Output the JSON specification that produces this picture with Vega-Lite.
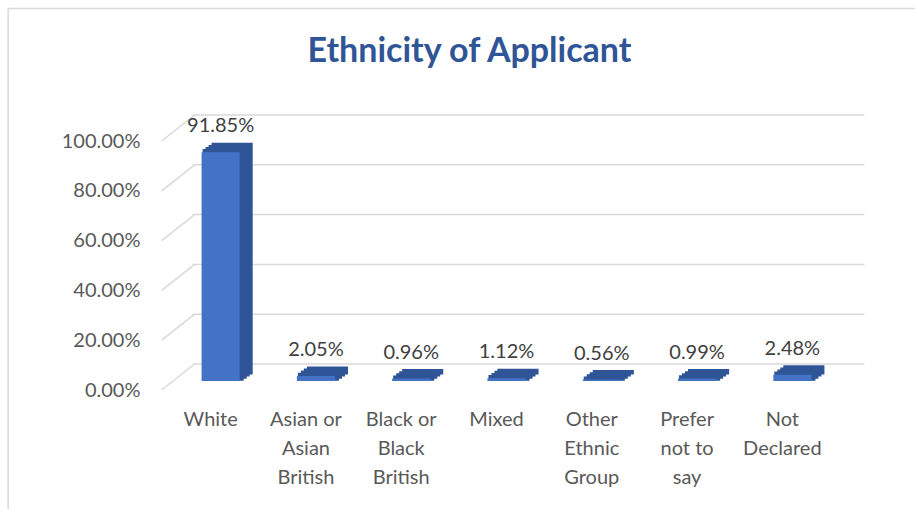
{
  "$schema": "https://vega.github.io/schema/vega-lite/v6.json",
  "width": 667,
  "height": 249,
  "autosize": {"type": "none"},
  "padding": {"left": 173, "top": 132, "right": 75, "bottom": 128},
  "background": "white",
  "config": {
    "view": {"stroke": null},
    "font": "Lato",
    "axis": {"domain": false, "ticks": false, "grid": false, "labelFont": "Lato", "labelFontSize": 20, "labelColor": "#595959"},
    "axisX": {"labelAngle": 0, "labelPadding": 28, "labelOffset": -10, "labelLineHeight": 29, "labelLimit": 300},
    "axisY": {"labelPadding": 33, "labelOffset": 9}
  },
  "title": {
    "text": "Ethnicity of Applicant",
    "font": "Lato",
    "fontSize": 34,
    "fontWeight": "bold",
    "color": "#2F5597",
    "anchor": "middle",
    "frame": "group",
    "dx": -37,
    "offset": -88,
    "baseline": "alphabetic"
  },
  "datasets": {
    "ethnicity": [
      {"ethnicity": "White", "pct": 0.9185},
      {"ethnicity": "Asian or Asian British", "pct": 0.0205},
      {"ethnicity": "Black or Black British", "pct": 0.0096},
      {"ethnicity": "Mixed", "pct": 0.0112},
      {"ethnicity": "Other Ethnic Group", "pct": 0.0056},
      {"ethnicity": "Prefer not to say", "pct": 0.0099},
      {"ethnicity": "Not Declared", "pct": 0.0248}
    ],
    "gridlines": [{"v": 0}, {"v": 0.2}, {"v": 0.4}, {"v": 0.6}, {"v": 0.8}, {"v": 1}],
    "frame": [{"part": "chart border"}]
  },
  "layer": [
    {
      "data": {"name": "frame"},
      "mark": {"type": "rule", "color": "#d9d9d9", "strokeWidth": 1.5, "yOffset": -123.5, "y2Offset": -123.5, "xOffset": -212.5, "x2Offset": 130},
      "encoding": {
        "x": {
          "datum": "White",
          "type": "nominal",
          "bandPosition": 0.5,
          "scale": {
            "domain": ["White", "Asian or Asian British", "Black or Black British", "Mixed", "Other Ethnic Group", "Prefer not to say", "Not Declared"],
            "paddingInner": 0.6,
            "paddingOuter": 0.3
          },
          "axis": {"title": null}
        },
        "x2": {"datum": "Not Declared"},
        "y": {"datum": 1, "type": "quantitative", "scale": {"domain": [0, 1], "nice": false}, "axis": {"title": null}},
        "y2": {"datum": 1}
      }
    },
    {
      "data": {"name": "frame"},
      "mark": {"type": "rule", "color": "#d9d9d9", "strokeWidth": 1.5, "xOffset": -212.5, "x2Offset": -212.5, "yOffset": -123.5, "y2Offset": 140},
      "encoding": {
        "x": {"datum": "White", "type": "nominal", "bandPosition": 0.5, "axis": {"title": null}},
        "x2": {"datum": "White"},
        "y": {"datum": 1, "type": "quantitative", "axis": {"title": null}},
        "y2": {"datum": 0}
      }
    },
    {
      "data": {"name": "gridlines"},
      "mark": {"type": "rule", "color": "#d9d9d9", "strokeWidth": 1.5, "yOffset": -17, "y2Offset": -17, "xOffset": -28, "x2Offset": 72},
      "encoding": {
        "x": {"datum": "White", "type": "nominal", "bandPosition": 0.5, "axis": {"title": null}},
        "x2": {"datum": "Not Declared"},
        "y": {"field": "v", "type": "quantitative", "axis": {"title": null}},
        "y2": {"field": "v"}
      }
    },
    {
      "data": {"name": "gridlines"},
      "mark": {"type": "rule", "color": "#d9d9d9", "strokeWidth": 1.5, "xOffset": -59, "x2Offset": -26, "yOffset": 9, "y2Offset": -17},
      "encoding": {
        "x": {"datum": "White", "type": "nominal", "bandPosition": 0.5, "axis": {"title": null}},
        "x2": {"datum": "White"},
        "y": {"field": "v", "type": "quantitative", "axis": {"title": null}},
        "y2": {"field": "v"}
      }
    },
    {
      "data": {"name": "ethnicity"},
      "mark": {"type": "bar", "color": "#2F5597", "stroke": "#2F5597", "strokeWidth": 3, "xOffset": 11.5, "yOffset": -8, "y2Offset": -8},
      "encoding": {
        "x": {"field": "ethnicity", "type": "nominal", "sort": null, "axis": {"title": null}},
        "y": {"field": "pct", "type": "quantitative", "axis": {"title": null}}
      }
    },
    {
      "data": {"name": "ethnicity"},
      "mark": {"type": "bar", "color": "#2F5597", "stroke": "#2F5597", "strokeWidth": 3, "xOffset": 8.5, "yOffset": -5.9, "y2Offset": -5.9},
      "encoding": {
        "x": {"field": "ethnicity", "type": "nominal", "sort": null, "axis": {"title": null}},
        "y": {"field": "pct", "type": "quantitative", "axis": {"title": null}}
      }
    },
    {
      "data": {"name": "ethnicity"},
      "mark": {"type": "bar", "color": "#2F5597", "stroke": "#2F5597", "strokeWidth": 3, "xOffset": 5.5, "yOffset": -3.8, "y2Offset": -3.8},
      "encoding": {
        "x": {"field": "ethnicity", "type": "nominal", "sort": null, "axis": {"title": null}},
        "y": {"field": "pct", "type": "quantitative", "axis": {"title": null}}
      }
    },
    {
      "data": {"name": "ethnicity"},
      "mark": {"type": "bar", "color": "#2F5597", "stroke": "#2F5597", "strokeWidth": 3, "xOffset": 2.5, "yOffset": -1.7, "y2Offset": -1.7},
      "encoding": {
        "x": {"field": "ethnicity", "type": "nominal", "sort": null, "axis": {"title": null}},
        "y": {"field": "pct", "type": "quantitative", "axis": {"title": null}}
      }
    },
    {
      "data": {"name": "ethnicity"},
      "mark": {"type": "bar", "color": "#4472C4"},
      "encoding": {
        "x": {
          "field": "ethnicity",
          "type": "nominal",
          "sort": null,
          "axis": {
            "title": null,
            "labelExpr": "datum.value == 'Asian or Asian British' ? ['Asian or', 'Asian', 'British'] : datum.value == 'Black or Black British' ? ['Black or', 'Black', 'British'] : datum.value == 'Other Ethnic Group' ? ['Other', 'Ethnic', 'Group'] : datum.value == 'Prefer not to say' ? ['Prefer', 'not to', 'say'] : datum.value == 'Not Declared' ? ['Not', 'Declared'] : datum.label"
          }
        },
        "y": {
          "field": "pct",
          "type": "quantitative",
          "axis": {"title": null, "values": [0, 0.2, 0.4, 0.6, 0.8, 1], "format": ".2%"}
        }
      }
    },
    {
      "data": {"name": "ethnicity"},
      "mark": {"type": "text", "dy": -26, "baseline": "middle", "font": "Lato", "fontSize": 20, "color": "#404040"},
      "encoding": {
        "x": {"field": "ethnicity", "type": "nominal", "sort": null, "axis": {"title": null}},
        "y": {"field": "pct", "type": "quantitative", "axis": {"title": null}},
        "text": {"field": "pct", "type": "quantitative", "format": ".2%"}
      }
    }
  ]
}
